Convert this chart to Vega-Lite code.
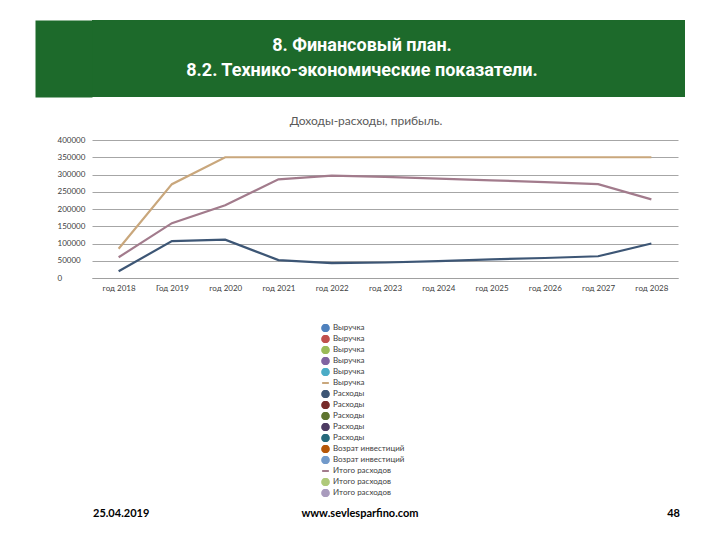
{
  "$schema": "https://vega.github.io/schema/vega-lite/v6.json",
  "background": "white",
  "padding": {"left": 35, "top": 20, "right": 5, "bottom": 5},
  "spacing": 18,
  "config": {"view": {"stroke": null}, "font": "Lato"},
  "datasets": {
    "banner": [
      {"line": "1", "text": "8.  Финансовый план."},
      {"line": "2", "text": "8.2. Технико-экономические показатели."}
    ],
    "series": [
      {"year": "год 2018", "series": "Выручка|6", "value": 85000},
      {"year": "Год 2019", "series": "Выручка|6", "value": 272000},
      {"year": "год 2020", "series": "Выручка|6", "value": 350000},
      {"year": "год 2021", "series": "Выручка|6", "value": 350000},
      {"year": "год 2022", "series": "Выручка|6", "value": 350000},
      {"year": "год 2023", "series": "Выручка|6", "value": 350000},
      {"year": "год 2024", "series": "Выручка|6", "value": 350000},
      {"year": "год 2025", "series": "Выручка|6", "value": 350000},
      {"year": "год 2026", "series": "Выручка|6", "value": 350000},
      {"year": "год 2027", "series": "Выручка|6", "value": 350000},
      {"year": "год 2028", "series": "Выручка|6", "value": 350000},
      {"year": "год 2018", "series": "Итого расходов|14", "value": 60000},
      {"year": "Год 2019", "series": "Итого расходов|14", "value": 159000},
      {"year": "год 2020", "series": "Итого расходов|14", "value": 211000},
      {"year": "год 2021", "series": "Итого расходов|14", "value": 286000},
      {"year": "год 2022", "series": "Итого расходов|14", "value": 297000},
      {"year": "год 2023", "series": "Итого расходов|14", "value": 293000},
      {"year": "год 2024", "series": "Итого расходов|14", "value": 288000},
      {"year": "год 2025", "series": "Итого расходов|14", "value": 283000},
      {"year": "год 2026", "series": "Итого расходов|14", "value": 278000},
      {"year": "год 2027", "series": "Итого расходов|14", "value": 272000},
      {"year": "год 2028", "series": "Итого расходов|14", "value": 228000},
      {"year": "год 2018", "series": "Расходы|7", "value": 19500},
      {"year": "Год 2019", "series": "Расходы|7", "value": 107000},
      {"year": "год 2020", "series": "Расходы|7", "value": 111000},
      {"year": "год 2021", "series": "Расходы|7", "value": 52000},
      {"year": "год 2022", "series": "Расходы|7", "value": 43000},
      {"year": "год 2023", "series": "Расходы|7", "value": 45000},
      {"year": "год 2024", "series": "Расходы|7", "value": 49000},
      {"year": "год 2025", "series": "Расходы|7", "value": 54000},
      {"year": "год 2026", "series": "Расходы|7", "value": 58000},
      {"year": "год 2027", "series": "Расходы|7", "value": 63000},
      {"year": "год 2028", "series": "Расходы|7", "value": 100000}
    ],
    "footer": [
      {"key": "date", "text": "25.04.2019"},
      {"key": "url", "text": "www.sevlesparfino.com"},
      {"key": "page", "text": "48"}
    ]
  },
  "vconcat": [
    {
      "width": 593,
      "height": 77,
      "view": {"fill": "#1d6a2b"},
      "data": {"name": "banner"},
      "mark": {"type": "text", "color": "white", "fontWeight": "bold", "font": "Roboto", "fontSize": 18, "dx": -26.5},
      "encoding": {
        "y": {
          "field": "line", "type": "ordinal", "sort": null, "scale": {"padding": 1},
          "axis": {"title": null, "labels": false, "ticks": false, "grid": false, "domain": true, "domainColor": "#1d6a2b", "domainWidth": 57, "domainCap": "butt", "offset": 28.5}
        },
        "text": {"field": "text"}
      }
    },
    {
      "width": 586,
      "height": 138,
      "title": {"text": "Доходы-расходы, прибыль.", "fontSize": 12, "font": "Lato", "fontWeight": "normal", "color": "#595959", "offset": 8, "frame": "group", "dx": -19},
      "data": {"name": "series"},
      "mark": {"type": "line", "strokeWidth": 2.2},
      "encoding": {
        "x": {
          "field": "year", "type": "ordinal", "sort": null,
          "axis": {"title": "x", "titleColor": "#ffffff", "titleFontSize": 10, "titlePadding": 188, "labelAngle": 0, "labelFontSize": 8, "labelColor": "#404040", "ticks": false, "tickSize": 0, "domain": true, "domainColor": "#a0a0a0", "labelPadding": 6, "grid": false}
        },
        "y": {
          "field": "value", "type": "quantitative",
          "scale": {"domain": [0, 400000]},
          "axis": {"title": "y", "titleColor": "#ffffff", "titleFontSize": 10, "titlePadding": 12, "values": [0, 50000, 100000, 150000, 200000, 250000, 300000, 350000, 400000], "format": "d", "labelFontSize": 8, "labelColor": "#404040", "labelAlign": "left", "labelPadding": 35, "grid": true, "gridColor": "#a6a6a6", "gridWidth": 1, "domain": false, "ticks": false, "tickSize": 0}
        },
        "color": {
          "field": "series", "type": "nominal",
          "scale": {
            "domain": ["Выручка|1", "Выручка|2", "Выручка|3", "Выручка|4", "Выручка|5", "Выручка|6", "Расходы|7", "Расходы|8", "Расходы|9", "Расходы|10", "Расходы|11", "Возрат инвестиций|12", "Возрат инвестиций|13", "Итого расходов|14", "Итого расходов|15", "Итого расходов|16"],
            "range": ["#4f81bd", "#c0504d", "#9bbb59", "#8064a2", "#4bacc6", "#c9a77c", "#3d5675", "#772c2a", "#5f7530", "#4d3b62", "#276a7c", "#b65708", "#729aca", "#a27b8c", "#afc97a", "#a99bbd"]
          },
          "legend": {
            "orient": "none", "legendX": 229, "legendY": 304, "title": null,
            "labelFontSize": 8, "labelColor": "#404040", "symbolSize": 45, "rowPadding": 3, "labelOffset": 3, "clipHeight": 8,
            "labelExpr": "split(datum.label, '|')[0]",
            "encode": {
              "symbols": {
                "update": {
                  "shape": {"signal": "indexof(['Выручка|6', 'Итого расходов|14'], datum.value) >= 0 ? 'stroke' : 'circle'"},
                  "fill": {"scale": "color", "field": "value"},
                  "stroke": {"scale": "color", "field": "value"},
                  "strokeWidth": {"value": 2},
                  "opacity": {"value": 1}
                }
              }
            }
          }
        }
      }
    },
    {
      "width": 588,
      "height": 10,
      "data": {"name": "footer"},
      "encoding": {
        "x": {"field": "key", "type": "ordinal", "sort": null, "axis": null, "scale": {"domain": ["date", "url", "page"], "padding": 0}},
        "text": {"field": "text"}
      },
      "layer": [
        {"transform": [{"filter": "datum.key == 'date'"}], "mark": {"type": "text", "align": "left", "dx": 1, "fontWeight": "bold", "fontSize": 11, "color": "#000000"}},
        {"transform": [{"filter": "datum.key == 'url'"}], "mark": {"type": "text", "align": "center", "dx": -26, "fontWeight": "bold", "fontSize": 11, "color": "#000000"}},
        {"transform": [{"filter": "datum.key == 'page'"}], "mark": {"type": "text", "align": "right", "fontWeight": "bold", "fontSize": 11, "color": "#000000"}}
      ]
    }
  ]
}
